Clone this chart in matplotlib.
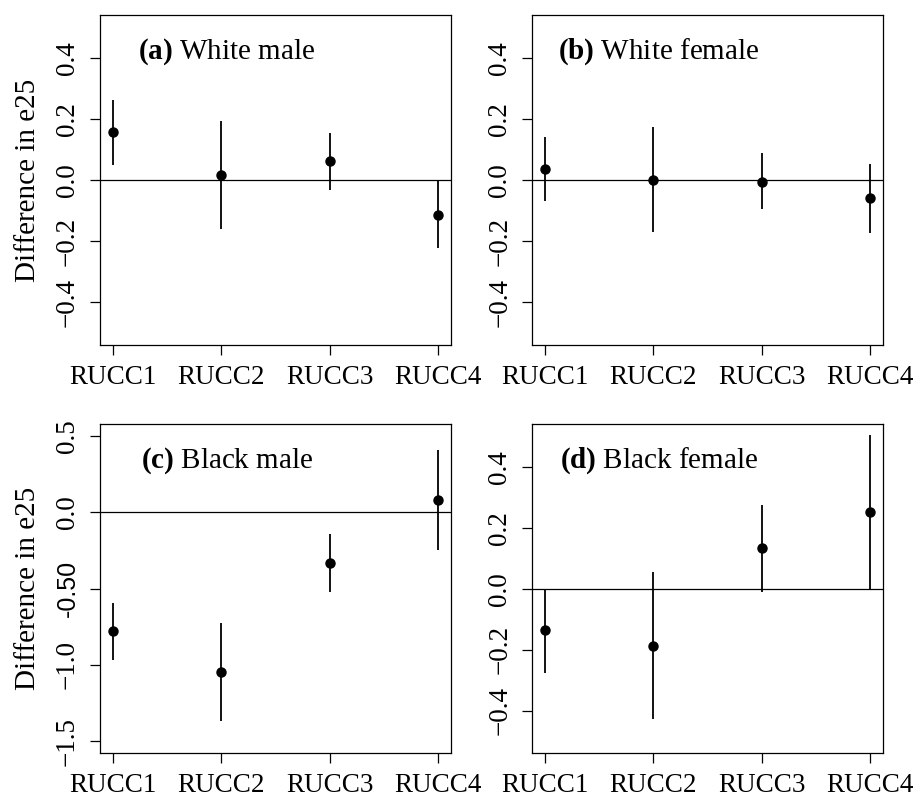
import matplotlib.pyplot as plt
import matplotlib.transforms as mtransforms

plt.rcParams['font.family'] = ['Liberation Serif', 'DejaVu Serif']
plt.rcParams['mathtext.fontset'] = 'custom'
plt.rcParams['mathtext.rm'] = 'Liberation Serif'
plt.rcParams['mathtext.bf'] = 'Liberation Serif:bold'

categories = ['RUCC1', 'RUCC2', 'RUCC3', 'RUCC4']

# point estimates and interval bounds per panel
wm_est = [0.156, 0.017, 0.061, -0.114]
wm_low = [0.050, -0.159, -0.034, -0.224]
wm_high = [0.263, 0.192, 0.153, 0.0]

wf_est = [0.035, 0.001, -0.005, -0.059]
wf_low = [-0.070, -0.170, -0.094, -0.173]
wf_high = [0.140, 0.175, 0.087, 0.054]

bm_est = [-0.781, -1.047, -0.332, 0.079]
bm_low = [-0.971, -1.367, -0.525, -0.249]
bm_high = [-0.595, -0.726, -0.142, 0.407]

bf_est = [-0.136, -0.187, 0.132, 0.252]
bf_low = [-0.275, -0.426, -0.010, 0.0]
bf_high = [0.0, 0.054, 0.273, 0.505]

panels = [
    ('(a)', 'White male', wm_est, wm_low, wm_high),
    ('(b)', 'White female', wf_est, wf_low, wf_high),
    ('(c)', 'Black male', bm_est, bm_low, bm_high),
    ('(d)', 'Black female', bf_est, bf_low, bf_high),
]

small_ticks = [-0.4, -0.2, 0.0, 0.2, 0.4]
small_labels = ['\u22120.4', '\u22120.2', '0.0', '0.2', '0.4']
big_ticks = [-1.5, -1.0, -0.5, 0.0, 0.5]
big_labels = ['\u22121.5', '\u22121.0', '-0.50', '0.0', '0.5']

fig = plt.figure(figsize=(9.23, 7.99), dpi=100)

# axes boxes in figure fractions [left, bottom, width, height]
boxes = [
    [0.1083, 0.5682, 0.3803, 0.4130],
    [0.5767, 0.5682, 0.3796, 0.4130],
    [0.1083, 0.0572, 0.3803, 0.4121],
    [0.5767, 0.0572, 0.3796, 0.4121],
]

x = [1, 2, 3, 4]
for i, (tag, name, est, low, high) in enumerate(panels):
    ax = fig.add_axes(boxes[i])
    ax.vlines(x, low, high, color='black', lw=1.3)
    ax.plot(x, est, 'o', color='black', markersize=6.5)
    ax.axhline(0, color='black', lw=0.9)

    if tag == '(c)':
        ymin, ymax = -1.5, 0.5
        ticks, labels = big_ticks, big_labels
    else:
        ymin, ymax = -0.5, 0.5
        ticks, labels = small_ticks, small_labels
    pad = (ymax - ymin) * 0.04
    ax.set_ylim(ymin - pad, ymax + pad)
    ax.set_xlim(1 - 0.12, 4 + 0.12)

    ax.set_xticks(x)
    ax.set_xticklabels(categories, fontsize=19.5)
    ax.set_yticks(ticks)
    ax.set_yticklabels(labels, fontsize=19.5, rotation=90, va='center')
    if tag == '(c)':
        ax.get_yticklabels()[2].set_family('Liberation Sans')
        ax.get_yticklabels()[2].set_fontsize(18)
    ax.tick_params(direction='out', length=7.5, width=0.9, pad=7)
    for s in ax.spines.values():
        s.set_linewidth(0.9)

    if i % 2 == 0:
        ax.set_ylabel('Difference in e25', fontsize=21, labelpad=10)

    trans = mtransforms.blended_transform_factory(ax.transData, ax.transAxes)
    ax.text(2.05, 0.888, r'$\mathbf{' + tag + '}$ ' + name, transform=trans,
            ha='center', va='center', fontsize=21)

fig.savefig('out.png', dpi=100)
